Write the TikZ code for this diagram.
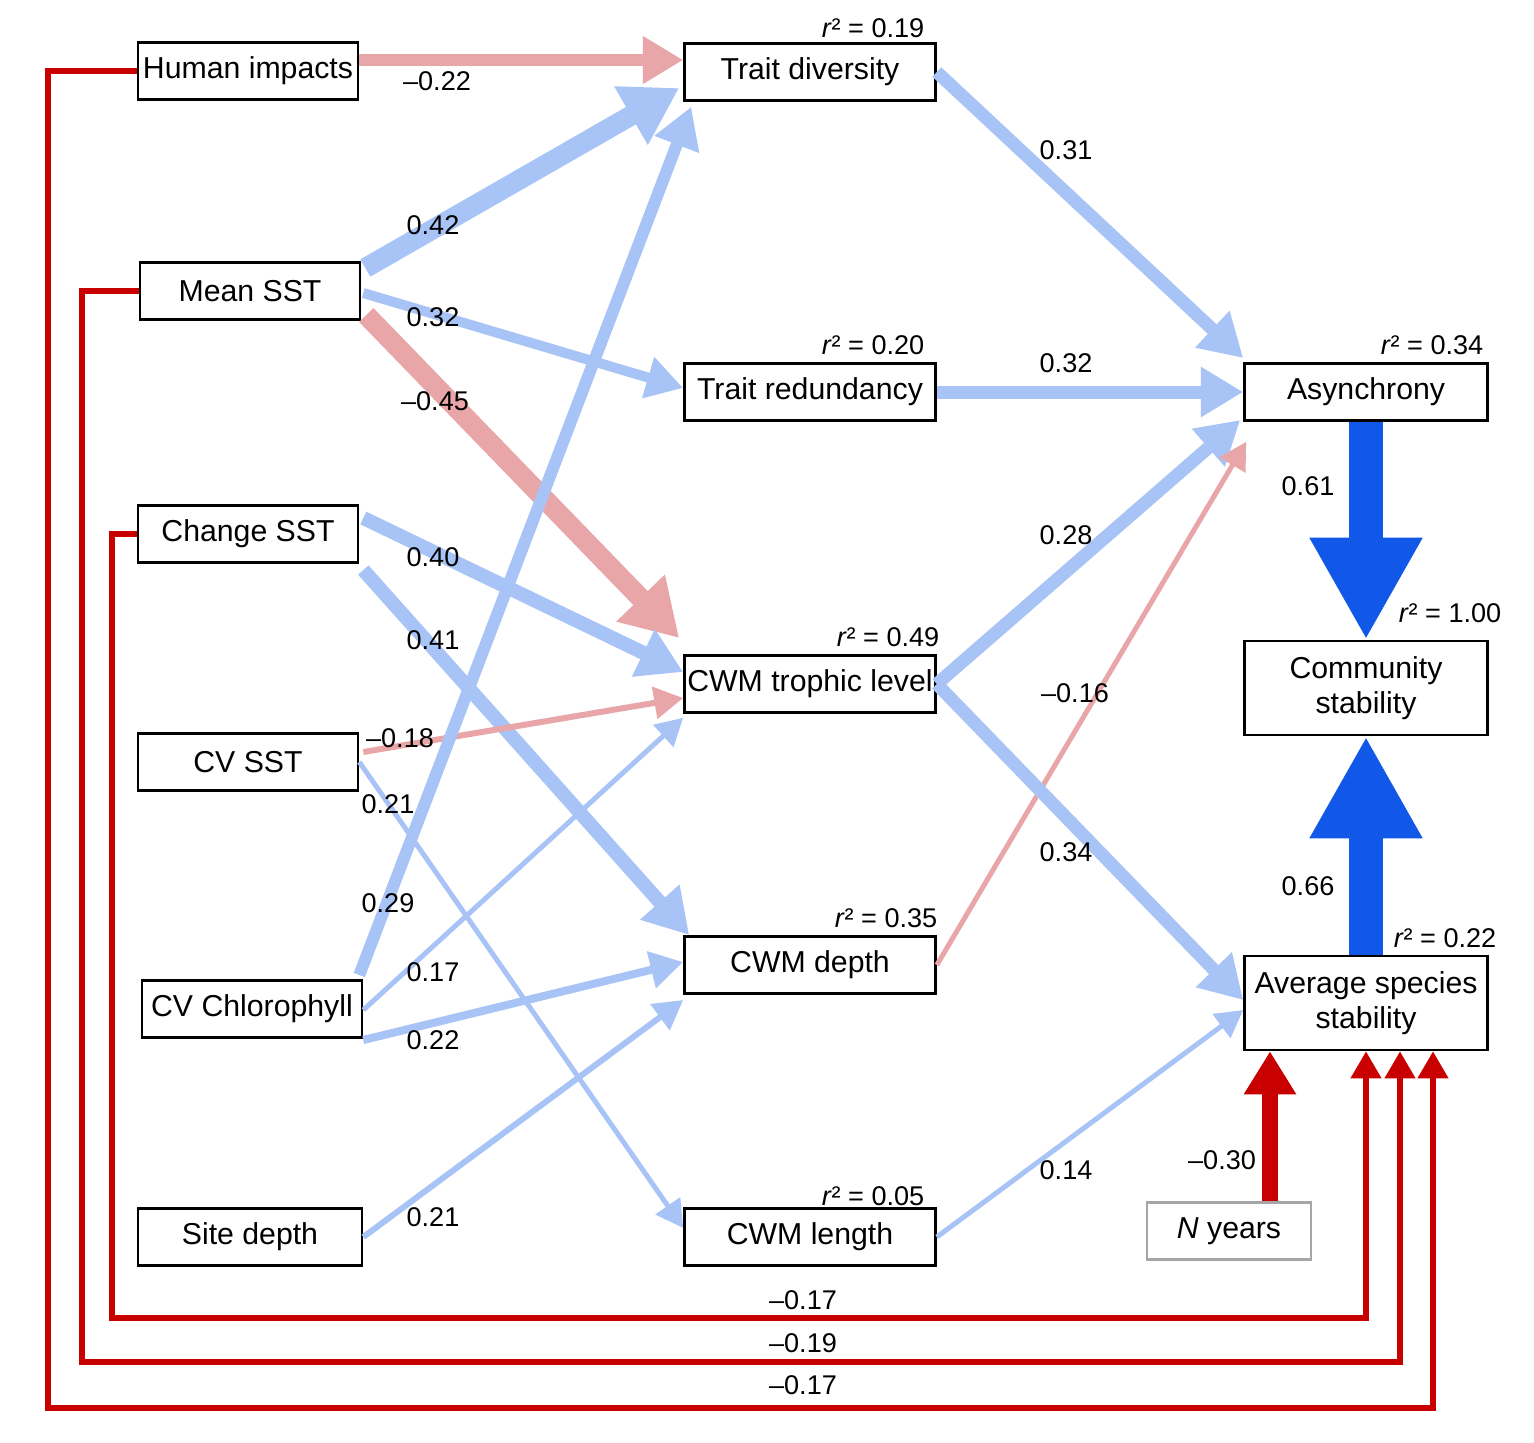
\documentclass[tikz,border=0pt]{standalone}
\usepackage{fontspec}
\setmainfont{Liberation Sans}
\usetikzlibrary{arrows.meta,calc}
\definecolor{lblue}{RGB}{168,196,246}
\definecolor{lpink}{RGB}{232,166,168}
\definecolor{dblue}{RGB}{18,88,232}
\definecolor{dred}{RGB}{200,0,0}
\begin{document}
\begin{tikzpicture}[x=0.01cm,y=-0.01cm,
  box/.style={draw,line width=0.7pt,minimum height=0.57cm,font=\fontsize{8.6}{10}\selectfont,inner sep=0.5pt,align=center},
  lab/.style={font=\fontsize{7.7}{9}\selectfont},
  ar/.style={line width=#1*0.2845pt,-{Triangle[length=5pt 1.9,width=5pt 2.3]}},
  blu/.style={ar=#1,lblue},
  pnk/.style={ar=#1,lpink},
  big/.style={line width=#1*0.2845pt,dblue,-{Triangle[length=0pt 3,width=0pt 3.1]}},
  rd/.style={line width=#1*0.2845pt,dred,-{Triangle[length=5pt 1.6,width=5pt 2]}}]
\useasboundingbox (0,0) rectangle (1534,1442);

% Predictors
\node[box,minimum width=2.2cm] (hum) at (248,71) {Human impacts};
\node[box,minimum width=2.2cm] (ms) at (250,291) {Mean SST};
\node[box,minimum width=2.2cm] (cs) at (248,534) {Change SST};
\node[box,minimum width=2.2cm] (cv) at (248,762) {CV SST};
\node[box,minimum width=2.2cm] (chl) at (252,1009) {CV Chlorophyll};
\node[box,minimum width=2.24cm] (sd) at (250,1237) {Site depth};

% Traits
\node[box,minimum width=2.51cm] (td) at (810,72) {Trait diversity};
\node[box,minimum width=2.51cm] (tr) at (810,392) {Trait redundancy};
\node[box,minimum width=2.51cm] (tl) at (810,684) {CWM trophic level};
\node[box,minimum width=2.51cm] (dp) at (810,965) {CWM depth};
\node[box,minimum width=2.51cm] (ln) at (810,1237) {CWM length};

% Stability
\node[box,minimum width=2.43cm] (as) at (1366,392) {Asynchrony};
\node[box,minimum width=2.43cm,minimum height=0.94cm] (cm) at (1366,688) {Community\\stability};
\node[box,minimum width=2.43cm,minimum height=0.94cm] (av) at (1366,1003) {Average species\\stability};
\node[box,draw=gray!70,minimum width=1.64cm] (ny) at (1229,1231) {\textit{N} years};

% r2 labels
\foreach \p/\v in {{(873,28)}/0.19,{(873,345)}/0.20,{(888,637)}/0.49,{(886,918)}/0.35,{(873,1196)}/0.05,{(1432,345)}/0.34,{(1450,613)}/1.00,{(1445,938)}/0.22}
  \node[lab] at \p {\textit{r}² = \v};

% Red paths to average stability
\draw[rd=6] (hum.west) -- (48,71) -- (48,1408) -- (1433,1408) -- ($(av.south)+(67,0)$);
\draw[rd=6] (ms.west) -- (82,291) -- (82,1362) -- (1400,1362) -- ($(av.south)+(34,0)$);
\draw[rd=6] (cs.west) -- (112,534) -- (112,1318) -- (1366,1318) -- (av.south);
\node[lab] at (803,1385) {–0.17};
\node[lab] at (803,1343) {–0.19};
\node[lab] at (803,1300) {–0.17};

% Predictors to traits
\draw[pnk=12] ($(hum.east)+(0,-11)$) -- ($(td.west)+(0,-12)$);
\draw[blu=20] ($(ms.east)+(4,-23)$) -- ($(td.west)+(-4,16)$);
\draw[blu=10] ($(ms.east)+(2,2)$) -- ($(tr.west)+(0,-4)$);
\draw[pnk=20] ($(ms.east)+(5,24)$) -- ($(tl.west)+(-4,-46)$);
\draw[blu=14] ($(cs.east)+(4,-16)$) -- ($(tl.west)+(0,-12)$);
\draw[blu=14] ($(cs.east)+(4,36)$) -- ($(dp.west)+(6,-30)$);
\draw[pnk=6] ($(cv.east)+(4,-10)$) -- ($(tl.west)+(0,14)$);
\draw[blu=5] (cv.east) -- ($(ln.west)+(0,-9)$);
\draw[blu=12] ($(chl.east)+(-4,-34)$) -- ($(td.south west)+(8,5)$);
\draw[blu=5] ($(chl.east)+(0,1)$) -- ($(tl.south west)+(0,4)$);
\draw[blu=8] ($(chl.east)+(0,31)$) -- ($(dp.west)+(0,-3)$);
\draw[blu=6] (sd.east) -- ($(dp.west)+(0,35)$);
\node[lab] at (437,81) {–0.22};
\node[lab] at (433,225) {0.42};
\node[lab] at (433,317) {0.32};
\node[lab] at (435,401) {–0.45};
\node[lab] at (433,557) {0.40};
\node[lab] at (433,640) {0.41};
\node[lab] at (400,738) {–0.18};
\node[lab] at (388,804) {0.21};
\node[lab] at (388,903) {0.29};
\node[lab] at (433,972) {0.17};
\node[lab] at (433,1040) {0.22};
\node[lab] at (433,1217) {0.21};

% Traits to stability
\draw[blu=13] (td.east) -- ($(as.west)+(0,-34)$);
\draw[blu=13] (tr.east) -- (as.west);
\draw[blu=13] (tl.east) -- ($(as.west)+(-3,28)$);
\draw[pnk=5] (dp.east) -- ($(as.south west)+(3,20)$);
\draw[blu=13] (tl.east) -- ($(av.west)+(0,-3)$);
\draw[blu=5] (ln.east) -- ($(av.west)+(0,7)$);
\node[lab] at (1066,150) {0.31};
\node[lab] at (1066,363) {0.32};
\node[lab] at (1066,535) {0.28};
\node[lab] at (1075,693) {–0.16};
\node[lab] at (1066,852) {0.34};
\node[lab] at (1066,1170) {0.14};

% Stability paths
\draw[big=34] (as.south) -- (cm.north);
\draw[big=34] (av.north) -- (cm.south);
\draw[rd=16] ($(ny.north)+(41,0)$) -- ($(av.south)+(-96,0)$);
\node[lab] at (1308,486) {0.61};
\node[lab] at (1308,886) {0.66};
\node[lab] at (1222,1160) {–0.30};
\end{tikzpicture}
\end{document}
